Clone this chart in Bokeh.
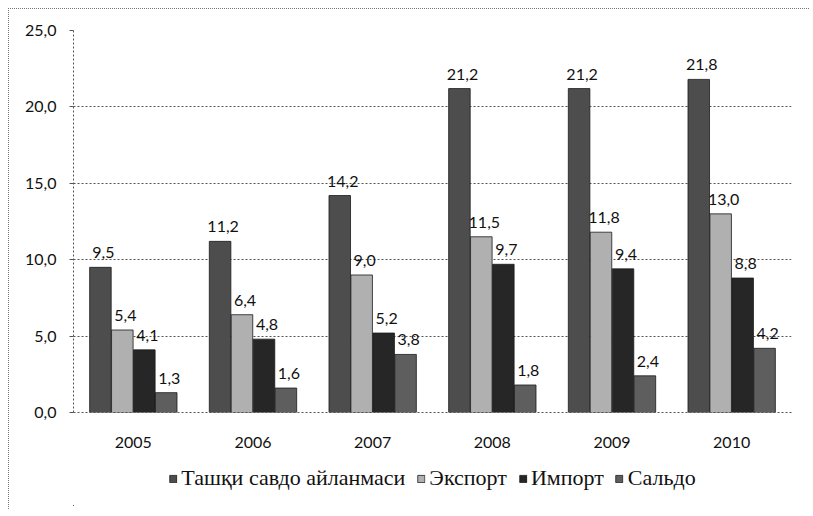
from bokeh.plotting import figure
from bokeh.layouts import column
from bokeh.models import (FactorRange, Range1d, ColumnDataSource, Legend, LegendItem,
                          CustomJSTickFormatter, FixedTicker)
from bokeh.transform import dodge
from bokeh.core.properties import value
from bokeh.embed import file_html
from bokeh.resources import INLINE

years = ["2005", "2006", "2007", "2008", "2009", "2010"]
series_names = ["Ташқи савдо айланмаси", "Экспорт", "Импорт", "Сальдо"]
turnover = [9.5, 11.2, 14.2, 21.2, 21.2, 21.8]
export = [5.4, 6.4, 9.0, 11.5, 11.8, 13.0]
imports = [4.1, 4.8, 5.2, 9.7, 9.4, 8.8]
saldo = [1.3, 1.6, 3.8, 1.8, 2.4, 4.2]
y_ticks = [0, 5, 10, 15, 20, 25]

colors = ["#4d4d4d", "#b0b0b0", "#262626", "#5e5e5e"]
offsets = [-0.275, -0.092, 0.092, 0.275]
values = [turnover, export, imports, saldo]

p = figure(x_range=FactorRange(*years), y_range=Range1d(0, 25),
           width=800, height=442, output_backend="svg", toolbar_location=None,
           min_border_left=64, min_border_right=18, min_border_top=21, min_border_bottom=39)

for name, vals, col, off in zip(series_names, values, colors, offsets):
    src = ColumnDataSource(dict(year=years, v=vals,
                                lab=[f"{x:.1f}".replace(".", ",") for x in vals]))
    p.vbar(x=dodge("year", off, range=p.x_range), top="v", width=0.18, source=src,
           fill_color=col, line_color="#1a1a1a", line_width=0.8)
    p.text(x=dodge("year", off, range=p.x_range), y="v", text="lab", source=src,
           text_align="center", text_baseline="bottom", x_offset=3, y_offset=-9,
           text_font=value("Lato"), text_font_size="16px", text_color="#111111")

p.outline_line_color = None
p.xgrid.grid_line_color = None
p.ygrid.grid_line_color = "#555555"
p.ygrid.grid_line_dash = "2 2"
p.ygrid.grid_line_width = 1

p.yaxis.ticker = FixedTicker(ticks=y_ticks)
p.yaxis.formatter = CustomJSTickFormatter(code="return tick.toFixed(1).replace('.', ',');")
p.yaxis.axis_line_color = "#555555"
p.yaxis.axis_line_dash = "2 2"
p.yaxis.major_tick_out = 4
p.yaxis.major_tick_in = 0
p.yaxis.minor_tick_line_color = None
p.yaxis.major_tick_line_color = "#555555"
p.yaxis.major_label_standoff = 13
p.yaxis.major_label_text_font = "Lato"
p.yaxis.major_label_text_font_size = "16px"
p.yaxis.major_label_text_color = "#111111"

p.xaxis.axis_line_color = "#555555"
p.xaxis.axis_line_dash = "2 2"
p.xaxis.major_tick_line_color = None
p.xaxis.major_label_standoff = 18
p.xaxis.major_label_text_font = "Lato"
p.xaxis.major_label_text_font_size = "16px"
p.xaxis.major_label_text_color = "#111111"

# legend strip
pl = figure(x_range=Range1d(0, 1), y_range=Range1d(0, 1), width=800, height=58,
            output_backend="svg", toolbar_location=None, min_border=0,
            min_border_left=34, min_border_bottom=4,
            x_axis_type=None, y_axis_type=None)
pl.outline_line_color = None
pl.grid.visible = False
items = []
for name, col in zip(series_names, colors):
    r = pl.vbar(x=[-1], top=[-1], width=0.1, fill_color=col, line_color="#1a1a1a",
                line_width=0.8)
    items.append(LegendItem(label=name, renderers=[r]))
legend = Legend(items=items, orientation="horizontal", location="center",
                label_text_font="Liberation Serif", label_text_font_size="22px",
                label_text_color="#111111",
                glyph_width=9, glyph_height=9, spacing=11, label_standoff=4,
                border_line_color=None, background_fill_alpha=0, padding=0, margin=0)
pl.add_layout(legend)

layout = column(p, pl, spacing=0)
layout.styles = {"border-top": "1px dotted #777", "border-left": "1px dotted #777",
                 "margin-left": "8px", "margin-top": "8px"}

open("out.html", "w").write(file_html(layout, INLINE))
